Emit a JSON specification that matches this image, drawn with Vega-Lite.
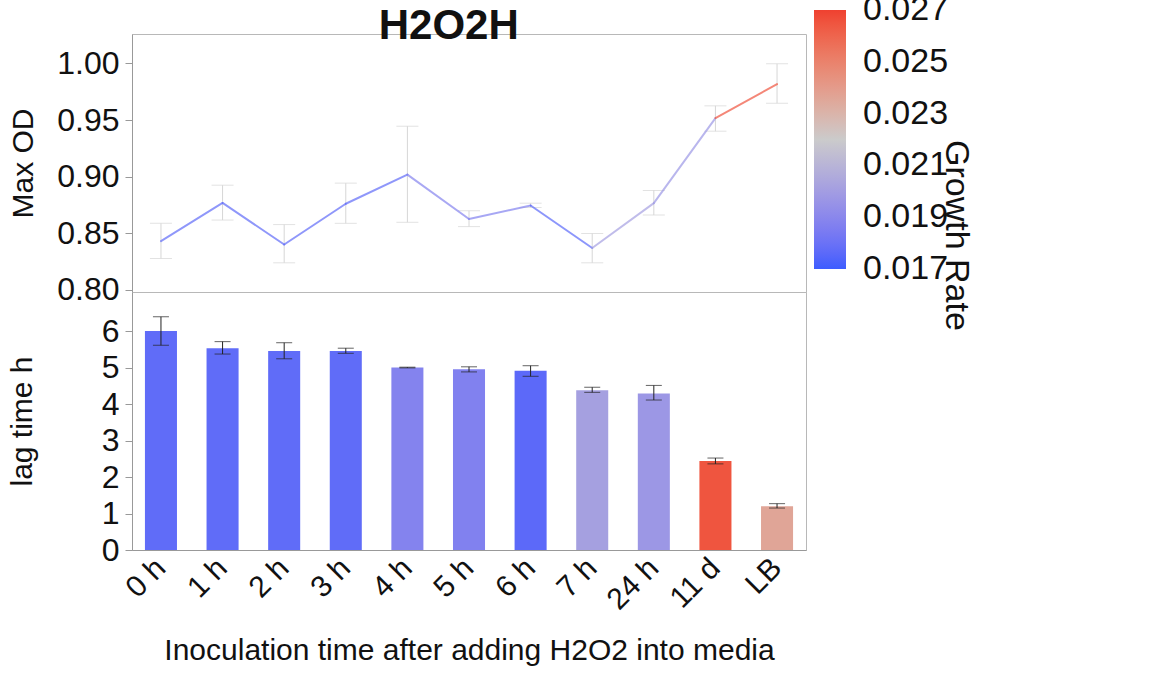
{
  "$schema": "https://vega.github.io/schema/vega-lite/v6.json",
  "padding": {"left": 6, "top": 5, "right": 2, "bottom": 2},
  "background": "white",
  "spacing": 0,
  "bounds": "flush",
  "config": {
    "font": "Liberation Sans",
    "view": {"stroke": "#b8b8b8", "strokeWidth": 1},
    "axis": {"grid": false, "labelFont": "Liberation Sans", "titleFont": "Liberation Sans", "labelColor": "#111", "titleColor": "#111", "domainColor": "#999", "tickColor": "#999", "titleFontWeight": "normal"}
  },
  "title": {"text": "H2O2H", "fontSize": 42, "fontWeight": "bold", "font": "Liberation Sans", "anchor": "start", "dx": 372, "offset": -38, "color": "#111"},
  "datasets": {
    "d": [
      {"cat": "0 h", "order": 0, "od": 0.843, "odLo": 0.8276, "odHi": 0.8587, "lag": 6.0, "lagLo": 5.61, "lagHi": 6.39, "rate": 0.0177},
      {"cat": "1 h", "order": 1, "od": 0.8767, "odLo": 0.8616, "odHi": 0.8924, "lag": 5.53, "lagLo": 5.37, "lagHi": 5.71, "rate": 0.0177},
      {"cat": "2 h", "order": 2, "od": 0.840, "odLo": 0.8238, "odHi": 0.8576, "lag": 5.45, "lagLo": 5.24, "lagHi": 5.68, "rate": 0.0177},
      {"cat": "3 h", "order": 3, "od": 0.876, "odLo": 0.8587, "odHi": 0.8942, "lag": 5.45, "lagLo": 5.39, "lagHi": 5.53, "rate": 0.0177},
      {"cat": "4 h", "order": 4, "od": 0.9017, "odLo": 0.8596, "odHi": 0.9445, "lag": 5.0, "lagLo": 4.99, "lagHi": 5.01, "rate": 0.0188},
      {"cat": "5 h", "order": 5, "od": 0.8625, "odLo": 0.8558, "odHi": 0.8698, "lag": 4.95, "lagLo": 4.88, "lagHi": 5.02, "rate": 0.0187},
      {"cat": "6 h", "order": 6, "od": 0.8744, "odLo": 0.8727, "odHi": 0.8765, "lag": 4.91, "lagLo": 4.76, "lagHi": 5.05, "rate": 0.0176},
      {"cat": "7 h", "order": 7, "od": 0.8369, "odLo": 0.8238, "odHi": 0.8497, "lag": 4.38, "lagLo": 4.32, "lagHi": 4.46, "rate": 0.0201},
      {"cat": "24 h", "order": 8, "od": 0.8765, "odLo": 0.866, "odHi": 0.8878, "lag": 4.29, "lagLo": 4.11, "lagHi": 4.51, "rate": 0.0197},
      {"cat": "11 d", "order": 9, "od": 0.9517, "odLo": 0.9401, "odHi": 0.9625, "lag": 2.44, "lagLo": 2.36, "lagHi": 2.52, "rate": 0.0265},
      {"cat": "LB", "order": 10, "od": 0.9817, "odLo": 0.9648, "odHi": 0.9997, "lag": 1.2, "lagLo": 1.15, "lagHi": 1.27, "rate": 0.0236}
    ]
  },
  "resolve": {"scale": {"x": "shared", "color": "shared"}},
  "vconcat": [
    {
      "width": 674,
      "height": 258,
      "data": {"name": "d"},
      "layer": [
        {
          "mark": {"type": "errorbar", "ticks": {"size": 22, "color": "#d6d6d6", "strokeWidth": 1.8}, "color": "#d6d6d6", "strokeWidth": 1.8},
          "encoding": {
            "x": {"field": "cat", "type": "nominal", "sort": ["0 h","1 h","2 h","3 h","4 h","5 h","6 h","7 h","24 h","11 d","LB"], "scale": {"paddingInner": 0.48, "paddingOuter": 0.21}, "axis": null},
            "y": {"field": "odLo", "type": "quantitative", "scale": {"domain": [0.798, 1.026], "nice": false, "zero": false}, "title": "Max OD",
              "axis": {"values": [0.8, 0.825, 0.85, 0.875, 0.9, 0.925, 0.95, 0.975, 1.0], "labelExpr": "round(datum.value*1000) % 50 == 0 ? format(datum.value, '.2f') : ''", "labelFontSize": 32, "titleFontSize": 30, "tickSize": {"condition": {"test": "round(datum.value*1000) % 50 == 0", "value": 7}, "value": 3}, "labelPadding": 6, "titlePadding": 18}},
            "y2": {"field": "odHi"}
          }
        },
        {
          "transform": [
            {"window": [{"op": "lead", "field": "cat", "as": "nextCat"}, {"op": "lead", "field": "od", "as": "nextOD"}], "sort": [{"field": "order"}]},
            {"filter": "datum.nextCat != null"}
          ],
          "mark": {"type": "rule", "strokeWidth": 2, "opacity": 0.7, "strokeCap": "round"},
          "encoding": {
            "x": {"field": "cat", "type": "nominal", "sort": ["0 h","1 h","2 h","3 h","4 h","5 h","6 h","7 h","24 h","11 d","LB"]},
            "x2": {"field": "nextCat"},
            "y": {"field": "od", "type": "quantitative", "title": "Max OD"},
            "y2": {"field": "nextOD"},
            "stroke": {"field": "rate", "type": "quantitative", "legend": null,
              "scale": {"domain": [0.017, 0.027], "range": ["#3c5dff", "#cbcbcb", "#ef4130"]}}
          }
        }
      ]
    },
    {
      "width": 674,
      "height": 258,
      "data": {"name": "d"},
      "layer": [
        {
          "mark": {"type": "bar"},
          "encoding": {
            "x": {"field": "cat", "type": "nominal", "sort": ["0 h","1 h","2 h","3 h","4 h","5 h","6 h","7 h","24 h","11 d","LB"], "title": "Inoculation time after adding H2O2 into media",
              "axis": {"labelAngle": -45, "labelAlign": "right", "labelBaseline": "middle", "labelFontSize": 30, "titleFontSize": 30, "ticks": false, "labelPadding": 13, "titlePadding": 21}},
            "y": {"field": "lag", "type": "quantitative", "scale": {"domain": [0, 7.07], "nice": false}, "title": "lag time h",
              "axis": {"values": [0, 1, 2, 3, 4, 5, 6], "labelFontSize": 32, "titleFontSize": 30, "tickSize": 7, "labelPadding": 6, "titlePadding": 64}},
            "color": {"field": "rate", "type": "quantitative", "title": "Growth Rate",
              "scale": {"domain": [0.01699, 0.02701], "range": ["#3c5dff", "#cbcbcb", "#ef4130"]},
              "legend": {"orient": "none", "legendX": 682, "legendY": -24, "padding": 0, "gradientLength": 259, "gradientThickness": 32, "values": [0.017, 0.019, 0.021, 0.023, 0.025, 0.027], "format": ".3f", "labelFontSize": 34, "labelColor": "#111", "labelFont": "Liberation Sans", "labelOffset": 17, "labelOverlap": false, "titleOrient": "right", "titleAngle": 0, "titleAnchor": "middle", "titleAlign": "left", "titleBaseline": "middle", "titleFontSize": 34, "titleFontWeight": "normal", "titleColor": "#111", "titleFont": "Liberation Sans", "titlePadding": 8, "titleLimit": 400}}
          }
        },
        {
          "mark": {"type": "errorbar", "ticks": {"size": 16, "color": "#222", "strokeWidth": 1.6}, "color": "#222", "strokeWidth": 1.6},
          "encoding": {
            "x": {"field": "cat", "type": "nominal", "sort": ["0 h","1 h","2 h","3 h","4 h","5 h","6 h","7 h","24 h","11 d","LB"]},
            "y": {"field": "lagLo", "type": "quantitative", "title": "lag time h"},
            "y2": {"field": "lagHi"}
          }
        }
      ]
    }
  ]
}
